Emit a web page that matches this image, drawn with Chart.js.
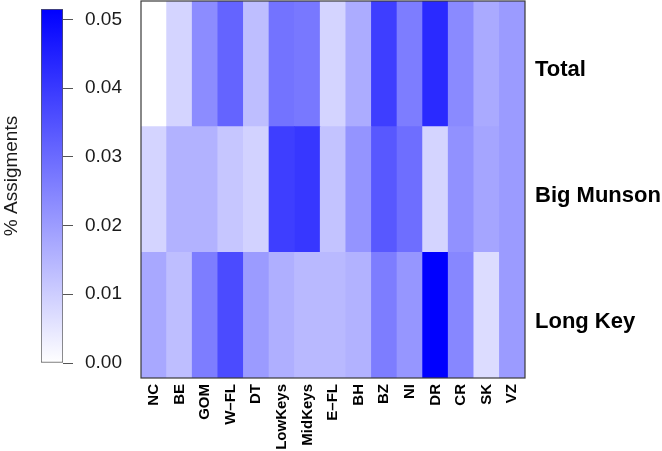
<!DOCTYPE html>
<html>
<head>
<meta charset="utf-8">
<script src="https://cdn.jsdelivr.net/npm/chart.js@4/dist/chart.umd.min.js"></script>
<style>
  html, body { margin: 0; padding: 0; background: #fff; }
  #wrap { position: relative; width: 662px; height: 451px; }
  #heat { position: absolute; left: 0; top: 0; }
  #bar { position: absolute; left: 0; top: 0; }
</style>
</head>
<body>
<div id="wrap">
  <canvas id="heat" width="662" height="451"></canvas>
  <canvas id="bar" width="140" height="451"></canvas>
</div>
<script>
// ---- data ----
const categories = ["NC", "BE", "GOM", "W–FL", "DT", "LowKeys", "MidKeys", "E–FL", "BH", "BZ", "NI", "DR", "CR", "SK", "VZ"];
const rowNames = ["Total", "Big Munson", "Long Key"];
const totalValues     = [0.0000, 0.0087, 0.0232, 0.0313, 0.0131, 0.0283, 0.0273, 0.0087, 0.0168, 0.0390, 0.0263, 0.0430, 0.0236, 0.0172, 0.0202];
const bigMunsonValues = [0.0087, 0.0156, 0.0156, 0.0115, 0.0091, 0.0390, 0.0404, 0.0121, 0.0216, 0.0337, 0.0293, 0.0087, 0.0222, 0.0182, 0.0202];
const longKeyValues   = [0.0176, 0.0131, 0.0263, 0.0364, 0.0202, 0.0162, 0.0141, 0.0141, 0.0156, 0.0263, 0.0212, 0.0515, 0.0242, 0.0071, 0.0202];
const scaleMax = 0.0515;
const colorbarTicks = [0.00, 0.01, 0.02, 0.03, 0.04, 0.05];
const colorbarTitle = "% Assigments";

const FONT = "'Liberation Sans', Arial, Helvetica, sans-serif";

function valueColor(v) {
  const t = Math.max(0, Math.min(1, v / scaleMax));
  const c = Math.round(255 * (1 - t));
  return `rgb(${c},${c},255)`;
}

// ---- heatmap ----
const rowsBottomUp = [
  { name: rowNames[2], values: longKeyValues },
  { name: rowNames[1], values: bigMunsonValues },
  { name: rowNames[0], values: totalValues }
];

const frame = {
  id: 'frame',
  afterDatasetsDraw(chart) {
    const { ctx, chartArea: a } = chart;
    ctx.save();
    ctx.strokeStyle = '#3a3a3a';
    ctx.lineWidth = 1.2;
    ctx.strokeRect(a.left, a.top, a.right - a.left, a.bottom - a.top);
    ctx.restore();
  }
};

new Chart(document.getElementById('heat'), {
  type: 'bar',
  data: {
    labels: categories,
    datasets: rowsBottomUp.map(r => ({
      label: r.name,
      data: categories.map(() => 1),
      backgroundColor: r.values.map(valueColor),
      borderWidth: 0,
      barPercentage: 1,
      categoryPercentage: 1
    }))
  },
  options: {
    responsive: false,
    animation: false,
    layout: { padding: { left: 141, top: 1, right: 0, bottom: 0 } },
    plugins: { legend: { display: false }, tooltip: { enabled: false } },
    scales: {
      x: {
        stacked: true,
        grid: { display: false, drawTicks: false },
        border: { display: false },
        ticks: {
          autoSkip: false, maxRotation: 90, minRotation: 90, padding: 6,
          color: '#000', font: { family: FONT, size: 15, weight: 'bold' }
        },
        afterFit(s) { s.height = 73; s.paddingLeft = 0; s.paddingRight = 0; }
      },
      y: {
        stacked: true,
        position: 'right',
        min: 0, max: 3,
        grid: { display: false, drawTicks: false },
        border: { display: false },
        afterBuildTicks(s) { s.ticks = rowsBottomUp.map((r, i) => ({ value: i + 0.45 })); },
        ticks: {
          padding: 10,
          color: '#000',
          font: { family: FONT, size: 22, weight: 'bold' },
          callback: (v) => rowsBottomUp[Math.floor(v)].name
        },
        afterFit(s) { s.width = 137; s.paddingTop = 0; s.paddingBottom = 0; }
      }
    }
  },
  plugins: [frame]
});

// ---- colorbar ----
const cbTitle = {
  id: 'cbTitle',
  afterDraw(chart) {
    const { ctx } = chart;
    ctx.save();
    ctx.translate(12, 176);
    ctx.rotate(-Math.PI / 2);
    ctx.fillStyle = '#1a1a1a';
    ctx.font = `19px ${FONT}`;
    ctx.textAlign = 'center';
    ctx.textBaseline = 'middle';
    ctx.fillText(colorbarTitle, 0, 0);
    ctx.restore();
  }
};

new Chart(document.getElementById('bar'), {
  type: 'bar',
  data: {
    labels: [''],
    datasets: [{
      data: [scaleMax],
      backgroundColor(ctx) {
        const a = ctx.chart.chartArea;
        if (!a) return 'rgb(128,128,255)';
        const g = ctx.chart.ctx.createLinearGradient(0, a.bottom, 0, a.top);
        g.addColorStop(0, valueColor(0));
        g.addColorStop(1, valueColor(scaleMax));
        return g;
      },
      borderColor: '#555',
      borderWidth: 1,
      borderSkipped: false,
      barPercentage: 1,
      categoryPercentage: 1
    }]
  },
  options: {
    responsive: false,
    animation: false,
    layout: { padding: { left: 41, top: 9, right: 0, bottom: 88 } },
    plugins: { legend: { display: false }, tooltip: { enabled: false } },
    scales: {
      x: { display: false },
      y: {
        position: 'right',
        min: 0, max: scaleMax,
        afterBuildTicks(s) { s.ticks = colorbarTicks.map(v => ({ value: v })); },
        grid: { drawOnChartArea: false, drawTicks: true, tickLength: 10, color: '#555', lineWidth: 1 },
        border: { display: false },
        ticks: {
          padding: 12,
          color: '#1a1a1a',
          font: { family: FONT, size: 19 },
          callback: (v) => Number(v).toFixed(2)
        },
        afterFit(s) { s.width = 77; s.paddingTop = 0; s.paddingBottom = 0; }
      }
    }
  },
  plugins: [cbTitle]
});
</script>
</body>
</html>
